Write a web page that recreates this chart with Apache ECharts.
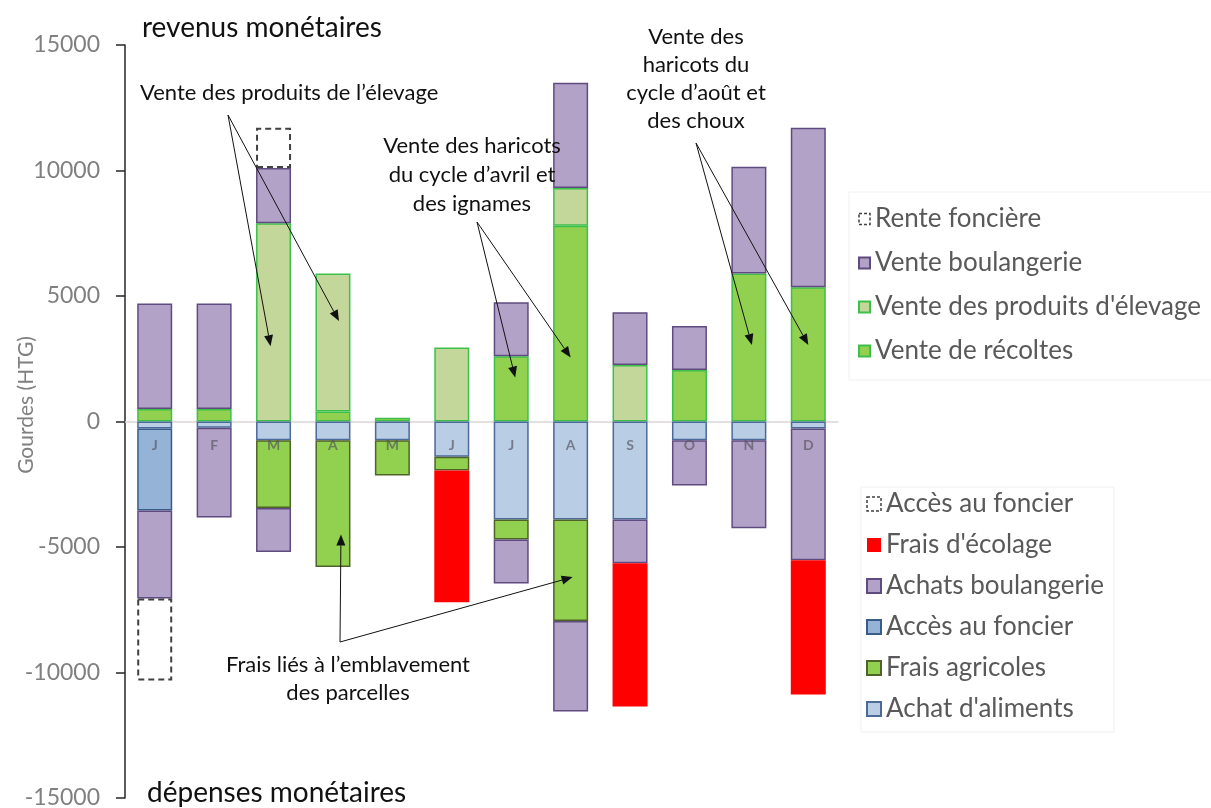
<!DOCTYPE html>
<html>
<head>
<meta charset="utf-8">
<script src="https://cdn.jsdelivr.net/npm/echarts@6/dist/echarts.min.js"></script>
<style>
html, body { margin: 0; padding: 0; background: #fff; }
#myecharts { width: 1211px; height: 808px; }
</style>
</head>
<body>
<div id="myecharts"></div>
<script>
// data (HTG), months J..D
var months = ['J', 'F', 'M', 'A', 'M', 'J', 'J', 'A', 'S', 'O', 'N', 'D'];
var yTicks = [-15000, 15000, 5000]; // min, max, step

// revenus (positive stack, bottom -> top)
var venteRecoltes     = [500, 500, '-', 400, 150, '-', 2600, 7800, '-', 2050, 5900, 5350];
var venteElevage      = ['-', '-', 7900, 5500, '-', 2950, '-', 1500, 2250, '-', '-', '-'];
var venteBoulangerie  = [4200, 4200, 2200, '-', '-', '-', 2150, 4200, 2100, 1750, 4250, 6350];
var renteFonciere     = ['-', '-', 1600, '-', '-', '-', '-', '-', '-', '-', '-', '-'];

// dépenses (negative stack, top -> bottom)
var achatAliments     = [-280, -250, -750, -750, -750, -1400, -3900, -3900, -3900, -750, -750, -280];
var fraisAgricoles    = ['-', '-', -2700, -5050, -1400, -550, -800, -4050, '-', '-', '-', '-'];
var accesFoncier      = [-3270, '-', '-', '-', '-', '-', '-', '-', '-', '-', '-', '-'];
var achatsBoulangerie = [-3500, -3570, -1750, '-', '-', '-', -1750, -3600, -1750, -1800, -3500, -5250];
var fraisEcolage      = ['-', '-', '-', '-', '-', -5250, '-', '-', -5700, '-', '-', -5350];
var accesFoncierPlus  = [-3270, '-', '-', '-', '-', '-', '-', '-', '-', '-', '-', '-'];

var FONT = 'Lato';
var monthLabelLevel = -950; // month letters sit just under the zero line
var myChart = echarts.init(document.getElementById('myecharts'));

function bar(name, data, fill, border, extra) {
    var s = {
        name: name,
        type: 'bar',
        stack: 'all',
        barWidth: 35,
        data: data,
        itemStyle: { color: fill, borderColor: border, borderWidth: border ? 1.5 : 0 }
    };
    if (extra) Object.assign(s.itemStyle, extra);
    return s;
}

var legendText = { fontFamily: FONT, fontSize: 26, color: '#595959' };
var dashedIcon = { borderType: [3, 2], borderWidth: 1.5, borderColor: '#404040' };

var option = {
    animation: false,
    grid: { left: 125, right: 373, top: 45, bottom: 10, containLabel: false, outerBoundsMode: 'none' },
    legend: [
        {
            orient: 'vertical', left: 849, top: 192,
            padding: [14, 20, 16, 9], itemGap: 18,
            itemWidth: 11, itemHeight: 11, icon: 'rect',
            borderColor: '#f0f0f0', borderWidth: 1,
            textStyle: legendText,
            data: [
                { name: 'Rente foncière', itemStyle: dashedIcon },
                'Vente boulangerie', "Vente des produits d'élevage", 'Vente de récoltes'
            ]
        },
        {
            orient: 'vertical', left: 861, top: 487,
            padding: [4, 10, 10, 5], itemGap: 15,
            itemWidth: 14, itemHeight: 14, icon: 'rect',
            borderColor: '#f0f0f0', borderWidth: 1,
            textStyle: legendText,
            formatter: function (n) { return n.trim(); },
            data: [
                { name: 'Accès au foncier ', itemStyle: dashedIcon },
                "Frais d'écolage", 'Achats boulangerie', 'Accès au foncier', 'Frais agricoles', "Achat d'aliments"
            ]
        }
    ],
    xAxis: {
        type: 'category',
        data: months,
        axisLine: { onZero: true, lineStyle: { color: '#dcd6d6', width: 1.5 } },
        axisTick: { show: false },
        axisLabel: { show: false },
        splitLine: { show: false }
    },
    yAxis: {
        type: 'value',
        min: yTicks[0], max: yTicks[1], interval: yTicks[2],
        axisLine: { show: true, lineStyle: { color: '#262626', width: 1.5 } },
        axisTick: { show: true, length: 9, lineStyle: { color: '#262626', width: 1.5 } },
        axisLabel: {
            color: '#808080', fontFamily: FONT, fontSize: 23, margin: 25,
            formatter: function (v) { return String(v); }
        },
        splitLine: { show: false }
    },
    series: [
        bar('Vente de récoltes', venteRecoltes, '#92d050', '#3cc04a'),
        bar("Vente des produits d'élevage", venteElevage, '#c4d79b', '#3cc04a'),
        bar('Vente boulangerie', venteBoulangerie, '#b3a2c7', '#5f4b80'),
        bar('Rente foncière', renteFonciere, 'rgba(0,0,0,0)', '#404040', { borderWidth: 2, borderType: [6, 4] }),
        bar("Achat d'aliments", achatAliments, '#b9cde5', '#4a6a9a'),
        bar('Frais agricoles', fraisAgricoles, '#92d050', '#4f6228'),
        bar('Accès au foncier', accesFoncier, '#95b3d7', '#385d8a'),
        bar('Achats boulangerie', achatsBoulangerie, '#b3a2c7', '#5f4b80'),
        bar("Frais d'écolage", fraisEcolage, '#ff0000', null),
        bar('Accès au foncier ', accesFoncierPlus, 'rgba(0,0,0,0)', '#404040', { borderWidth: 2, borderType: [6, 4] }),
        {
            // month letters drawn inside the bars, just under zero
            name: 'mois', type: 'scatter', symbolSize: 0, silent: true, z: 10,
            data: months.map(function (m, i) { return [i, monthLabelLevel]; }),
            label: {
                show: true, position: 'inside',
                formatter: function (p) { return months[p.dataIndex]; },
                color: 'rgba(85,85,95,0.85)', fontWeight: 'bold', fontSize: 14, fontFamily: FONT
            }
        }
    ]
};

myChart.setOption(option);

// annotations: text blocks and arrows pointing at bars (heads located through the axes)
function txt(text, x, y, size, align, vAlign, lh) {
    return {
        type: 'text', z: 20,
        style: {
            text: text, x: x, y: y, fill: '#111',
            fontFamily: FONT, fontSize: size,
            align: align, verticalAlign: vAlign, lineHeight: lh || size
        }
    };
}

function arrow(from, cat, val, dx) {
    var p = myChart.convertToPixel({ gridIndex: 0 }, [cat, val]);
    var x2 = p[0] + (dx || 0), y2 = p[1];
    var a = Math.atan2(y2 - from[1], x2 - from[0]);
    var L = 11, W = 4.5;
    var bx = x2 - L * Math.cos(a), by = y2 - L * Math.sin(a);
    return [
        { type: 'line', z: 20, shape: { x1: from[0], y1: from[1], x2: bx, y2: by }, style: { stroke: '#111', lineWidth: 1 } },
        { type: 'polygon', z: 20, shape: { points: [[x2, y2], [bx + W * Math.sin(a), by - W * Math.cos(a)], [bx - W * Math.sin(a), by + W * Math.cos(a)]] }, style: { fill: '#111' } }
    ];
}

var g = [
    {
        // y axis title
        type: 'text', x: 26, y: 405, rotation: Math.PI / 2,
        style: { text: 'Gourdes (HTG)', fontFamily: FONT, fontSize: 21, fill: '#808080', align: 'center', verticalAlign: 'middle' }
    },
    txt('revenus monétaires', 142, 28, 28, 'left', 'middle'),
    txt('dépenses monétaires', 147, 793, 28, 'left', 'middle'),
    txt('Vente des produits de l’élevage', 140, 93, 22, 'left', 'middle'),
    txt('Vente des haricots\ndu cycle d’avril et\ndes ignames', 472, 131, 22, 'center', 'top', 29),
    txt('Vente des\nharicots du\ncycle d’août et\ndes choux', 696, 23, 22, 'center', 'top', 28),
    txt('Frais liés à l’emblavement\ndes parcelles', 348, 651, 22, 'center', 'top', 28)
];
g = g.concat(
    arrow([228, 115], 2, 3000, -3),
    arrow([228, 115], 3, 4000, 6),
    arrow([477, 222], 6, 1750, 4),
    arrow([477, 222], 7, 2550, 0),
    arrow([696, 143], 10, 3050, 3),
    arrow([696, 143], 11, 3050, 0),
    arrow([340, 642], 3, -4500, 8),
    arrow([340, 642], 7, -6200, 2)
);
myChart.setOption({ graphic: g });
</script>
</body>
</html>
